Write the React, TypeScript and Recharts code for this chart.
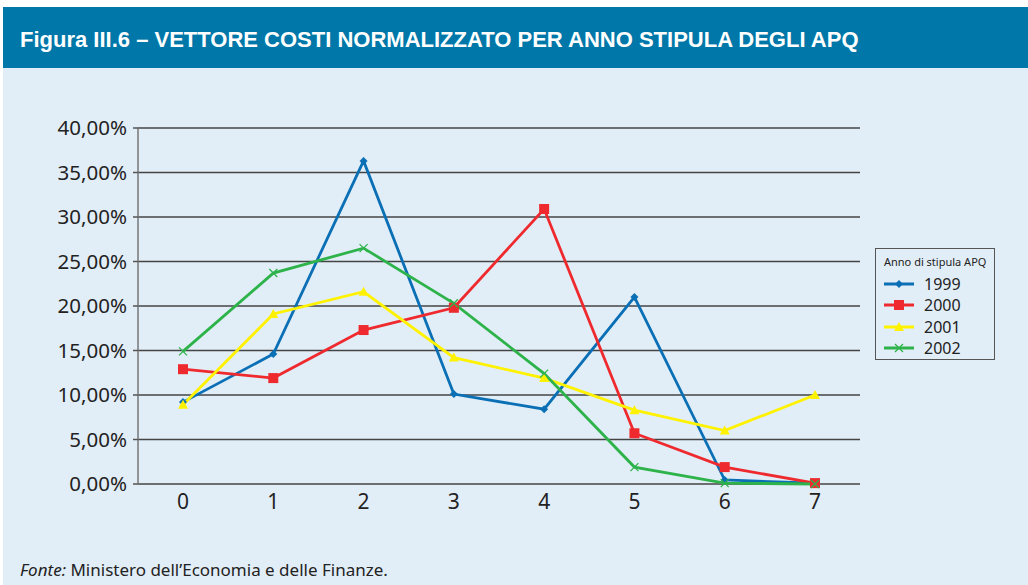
import { LineChart, Line, XAxis, YAxis, CartesianGrid, Legend } from 'recharts';

// categories on the x axis
const classi = ['0', '1', '2', '3', '4', '5', '6', '7'];
// normalised cost vector per APQ year (percent)
const v1999 = [9.2, 14.6, 36.3, 10.1, 8.4, 21.0, 0.45, 0.1];
const v2000 = [12.9, 11.9, 17.3, 19.8, 30.9, 5.7, 1.9, 0.1];
const v2001 = [8.9, 19.1, 21.6, 14.2, 11.9, 8.3, 6.0, 10.0];
const v2002 = [14.9, 23.7, 26.5, 20.3, 12.4, 1.9, 0.1, 0.0];
const yTicks = [0, 5, 10, 15, 20, 25, 30, 35, 40];
const bandTicks = [0, 1, 2, 3, 4, 5, 6, 7, 8];

const data = classi.map((c, i) => ({
  classe: c,
  y1999: v1999[i],
  y2000: v2000[i],
  y2001: v2001[i],
  y2002: v2002[i],
}));

const BLUE = '#0a6fb5';
const RED = '#ee2a2e';
const YELLOW = '#fff200';
const GREEN = '#2db34a';
const BG = '#e2eef7';
const FONT = '"Noto Sans", sans-serif';

const fmtPct = (v: number) => v.toFixed(2).replace('.', ',') + '%';

// marker shapes, like the original spreadsheet chart
const Marker = ({ kind, cx, cy, color }: any) => {
  if (cx == null || cy == null) return null;
  if (kind === 'diamond') {
    return <path d={`M${cx},${cy - 4} L${cx + 4},${cy} L${cx},${cy + 4} L${cx - 4},${cy} Z`} fill={color} />;
  }
  if (kind === 'square') {
    return <rect x={cx - 5} y={cy - 5} width={10} height={10} fill={color} />;
  }
  if (kind === 'triangle') {
    return <path d={`M${cx},${cy - 5} L${cx + 5},${cy + 4} L${cx - 5},${cy + 4} Z`} fill={color} />;
  }
  return (
    <path d={`M${cx - 4},${cy - 4} L${cx + 4},${cy + 4} M${cx + 4},${cy - 4} L${cx - 4},${cy + 4}`} stroke={color} strokeWidth={1.3} fill="none" />
  );
};

const series = [
  { key: 'y1999', name: '1999', color: BLUE, kind: 'diamond' },
  { key: 'y2000', name: '2000', color: RED, kind: 'square' },
  { key: 'y2001', name: '2001', color: YELLOW, kind: 'triangle' },
  { key: 'y2002', name: '2002', color: GREEN, kind: 'cross' },
];

const LegendBox = () => (
  <div
    style={{
      border: '1.5px solid #555',
      width: 120,
      height: 112,
      boxSizing: 'border-box',
      fontFamily: FONT,
      color: '#222',
      padding: '5px 0 0 8px',
      textAlign: 'left',
    }}
  >
    <div style={{ fontSize: 11, marginBottom: 4 }}>Anno di stipula APQ</div>
    {series.map((s) => (
      <div key={s.key} style={{ display: 'flex', alignItems: 'center', height: 21.5 }}>
        <svg width={34} height={14}>
          <line x1={0} y1={7} x2={30} y2={7} stroke={s.color} strokeWidth={3} />
          <Marker kind={s.kind} cx={15} cy={7} color={s.color} />
        </svg>
        <span style={{ fontSize: 16, marginLeft: 6 }}>{s.name}</span>
      </div>
    ))}
  </div>
);

export default function App() {
  return (
    <div style={{ position: 'absolute', left: 0, top: 0, width: 1028, height: 585, background: '#fff', overflow: 'hidden' }}>
      <div style={{ position: 'absolute', left: 3, top: 7, width: 1025, height: 578, background: BG }} />
      <div
        style={{
          position: 'absolute',
          left: 3,
          top: 7,
          width: 1025,
          height: 61,
          background: '#0077a9',
          color: '#fff',
          fontFamily: '"Liberation Sans", Arial, sans-serif',
          fontWeight: 700,
          fontSize: 22,
          lineHeight: '66px',
          paddingLeft: 17,
          boxSizing: 'border-box',
          whiteSpace: 'nowrap',
        }}
      >
        Figura III.6 – VETTORE COSTI NORMALIZZATO PER ANNO STIPULA DEGLI APQ
      </div>
      <div style={{ position: 'absolute', left: 0, top: 0 }}>
        <LineChart width={1028} height={585} data={data} margin={{ top: 128, right: 168, left: 0, bottom: 0 }}>
          <CartesianGrid vertical={false} stroke="#444" strokeWidth={1.5} />
          <XAxis
            dataKey="classe"
            xAxisId="cat"
            padding={{ left: 45, right: 45 }}
            height={101}
            axisLine={false}
            tickLine={false}
            tick={{ fontSize: 21, fill: '#222', fontFamily: FONT }}
            tickMargin={4}
          />
          <XAxis
            xAxisId="band"
            type="number"
            domain={[0, 8]}
            ticks={bandTicks}
            tick={false}
            height={0}
            axisLine={{ stroke: '#333', strokeWidth: 1.5 }}
            tickLine={{ stroke: '#333', strokeWidth: 1.5 }}
            tickSize={6}
          />
          <YAxis
            width={138}
            domain={[0, 40]}
            ticks={yTicks}
            tickFormatter={fmtPct}
            axisLine={{ stroke: '#777', strokeWidth: 1.5 }}
            tickLine={{ stroke: '#555', strokeWidth: 1.5 }}
            tickSize={5}
            tick={{ fontSize: 20.5, fill: '#222', fontFamily: FONT }}
            tickMargin={6}
          />
          <Legend
            content={<LegendBox />}
            layout="horizontal"
            verticalAlign="middle"
            align="center"
            wrapperStyle={{ position: 'absolute', left: 875, top: 248, width: 120, height: 112 }}
          />
          {series.map((s) => (
            <Line
              key={s.key}
              xAxisId="cat"
              type="linear"
              dataKey={s.key}
              name={s.name}
              stroke={s.color}
              strokeWidth={2.8}
              isAnimationActive={false}
              dot={(p: any) => <Marker key={`${s.key}-${p.index}`} kind={s.kind} cx={p.cx} cy={p.cy} color={s.color} />}
              activeDot={false}
            />
          ))}
        </LineChart>
      </div>
      <div
        style={{
          position: 'absolute',
          left: 20,
          top: 558,
          fontFamily: FONT,
          fontSize: 17,
          color: '#222',
        }}
      >
        <i>Fonte:</i> Ministero dell’Economia e delle Finanze.
      </div>
    </div>
  );
}
